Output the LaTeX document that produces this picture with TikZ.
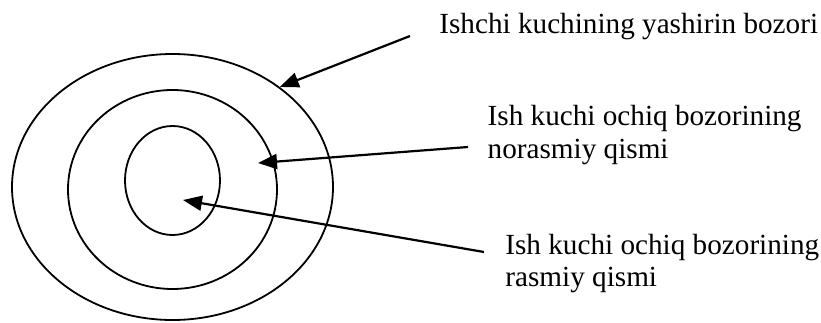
\documentclass[tikz,border=0pt]{standalone}
\usepackage{fontspec}
\setmainfont{Liberation Serif}
\usetikzlibrary{positioning,arrows.meta,shapes.geometric}
\tikzset{
  ring/.style={draw=black, ellipse, line width=0.9pt, inner sep=0pt},
  lbl/.style={anchor=base west, align=left, inner sep=0pt, font=\fontsize{14.6}{16.25}\selectfont},
  flow/.style={-{Triangle[length=9.5pt, width=7.5pt]}, line width=1.1pt, black}
}

\begin{document}
\begin{tikzpicture}[x=0.5pt, y=-0.5pt]
  \useasboundingbox (0,0) rectangle (821,322);

  \node[ring, minimum width=160.5pt, minimum height=133pt] (outer) at (172.5,187) {};
  \node[ring, minimum width=104.5pt, minimum height=99.5pt] (middle) at (172.5,189.5) {};
  \node[ring, minimum width=47.5pt, minimum height=54.5pt] (inner) at (172.5,180.5) {};

  % base anchor sits on the last line
  \node[lbl] (hidden) at (439,33.3) {Ishchi kuchining yashirin bozori};
  \node[lbl] (informal) at (487.3,158.3) {Ish kuchi ochiq bozorining\\norasmiy qismi};
  \node[lbl] (formal) at (505,286.7) {Ish kuchi ochiq bozorining\\rasmiy qismi};

  \coordinate (s1) at (410,36);
  \coordinate (s2) at (468,147);
  \coordinate (s3) at (484,252);
  \coordinate (t2) at (258,163);
  \coordinate (t3) at (183,200);

  \draw[flow] (s1) -- (outer.43.5);
  \draw[flow] (s2) -- (t2);
  \draw[flow] (s3) -- (t3);
\end{tikzpicture}
\end{document}
